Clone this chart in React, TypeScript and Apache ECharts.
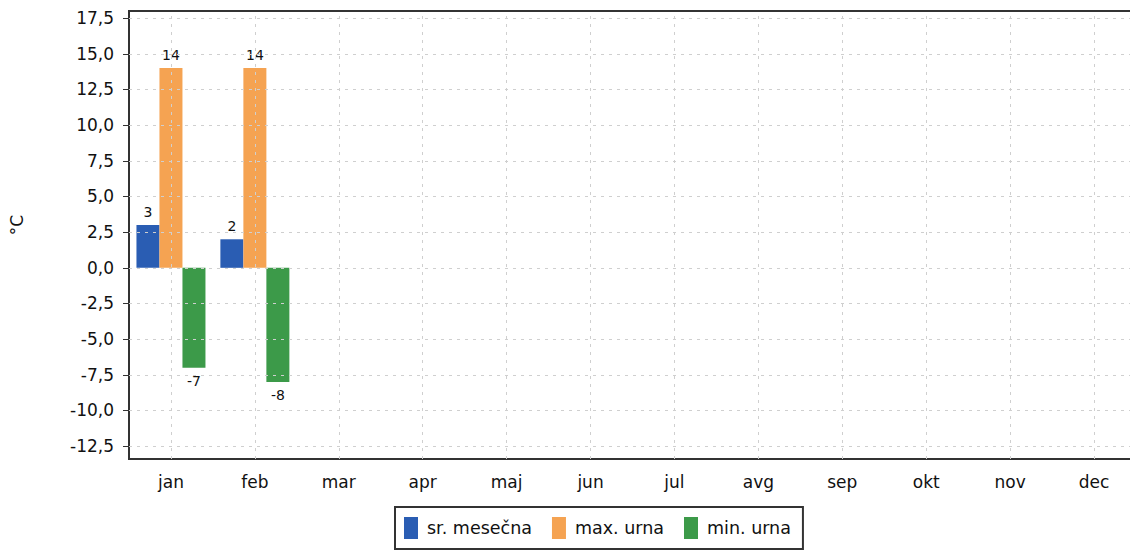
import React, { useEffect, useRef } from "react";
import * as echarts from "echarts";

const months = ["jan", "feb", "mar", "apr", "maj", "jun", "jul", "avg", "sep", "okt", "nov", "dec"];
const srMesecna: (number | null)[] = [3, 2, null, null, null, null, null, null, null, null, null, null];
const maxUrna: (number | null)[] = [14, 14, null, null, null, null, null, null, null, null, null, null];
const minUrna: (number | null)[] = [-7, -8, null, null, null, null, null, null, null, null, null, null];
const yTicks = [-12.5, -10, -7.5, -5, -2.5, 0, 2.5, 5, 7.5, 10, 12.5, 15, 17.5];
const seriesNames = ["sr. mesečna", "max. urna", "min. urna"];
const colors = ["#2a5db3", "#f5a352", "#3c9a49"];

const FONT = "DejaVu Sans";

function toItems(arr: (number | null)[]) {
  return arr.map((v) =>
    v === null
      ? null
      : { value: v, label: { position: v < 0 ? "bottom" : "top" } }
  );
}

export default function App() {
  const ref = useRef<HTMLDivElement>(null);
  useEffect(() => {
    if (!ref.current) return;
    const chart = echarts.init(ref.current, undefined, { renderer: "svg" });
    const gridLineStyle = { color: "#cfcfcf", type: [3, 5], width: 1 };
    const barSeries = [srMesecna, maxUrna, minUrna].map((arr, i) => ({
      name: seriesNames[i],
      type: "bar" as const,
      data: toItems(arr),
      barWidth: 23,
      barGap: "0%",
      z: 3,
      itemStyle: { color: colors[i] },
      label: {
        show: true,
        color: "#111",
        fontFamily: FONT,
        fontSize: 14,
        distance: 6,
      },
    }));
    chart.setOption({
      animation: false,
      backgroundColor: "#ffffff",
      color: colors,
      grid: {
        left: 129,
        top: 11,
        width: 1007,
        bottom: 93,
        show: true,
        borderColor: "#333",
        borderWidth: 2,
        outerBoundsMode: "none",
        containLabel: false,
      },
      legend: {
        data: seriesNames,
        left: 395,
        top: 507,
        orient: "horizontal",
        padding: [10, 12, 10, 9],
        itemWidth: 14,
        itemHeight: 22,
        itemGap: 20,
        borderColor: "#333",
        borderWidth: 2,
        icon: "rect",
        textStyle: { fontFamily: FONT, fontSize: 17.5, color: "#111", padding: [0, 0, 0, 4] },
      },
      xAxis: {
        type: "category",
        data: months,
        boundaryGap: true,
        axisLine: { onZero: false, lineStyle: { color: "#333", width: 2 } },
        axisTick: { alignWithLabel: true, length: 5, lineStyle: { color: "#333" } },
        axisLabel: { fontFamily: FONT, fontSize: 17, color: "#111", margin: 14 },
        splitLine: { show: false },
      },
      yAxis: {
        type: "value",
        min: -13.4,
        max: 18,
        name: "°C",
        nameLocation: "middle",
        nameRotate: 90,
        nameGap: 104,
        nameTextStyle: { fontFamily: FONT, fontSize: 17, color: "#111", padding: [0, 0, 0, 20] },
        axisLine: { show: true, lineStyle: { color: "#333", width: 2 } },
        axisTick: { show: true, length: 6, customValues: yTicks, lineStyle: { color: "#333" } },
        axisLabel: {
          customValues: yTicks,
          fontFamily: FONT,
          fontSize: 17,
          color: "#111",
          margin: 15,
          formatter: (v: number) => v.toFixed(1).replace(".", ","),
        },
        splitLine: { show: false },
      },
      series: [
        {
          name: "grid",
          type: "line",
          data: [],
          silent: true,
          z: 1,
          markLine: {
            silent: true,
            symbol: "none",
            label: { show: false },
            lineStyle: gridLineStyle,
            data: [
              ...yTicks.map((t) => ({ yAxis: t })),
              ...months.map((m) => ({ xAxis: m })),
            ],
          },
        },
        ...barSeries,
      ],
    });
    return () => chart.dispose();
  }, []);
  return (
    <div
      ref={ref}
      style={{ position: "absolute", left: 0, top: 0, width: 1130, height: 552 }}
    />
  );
}
